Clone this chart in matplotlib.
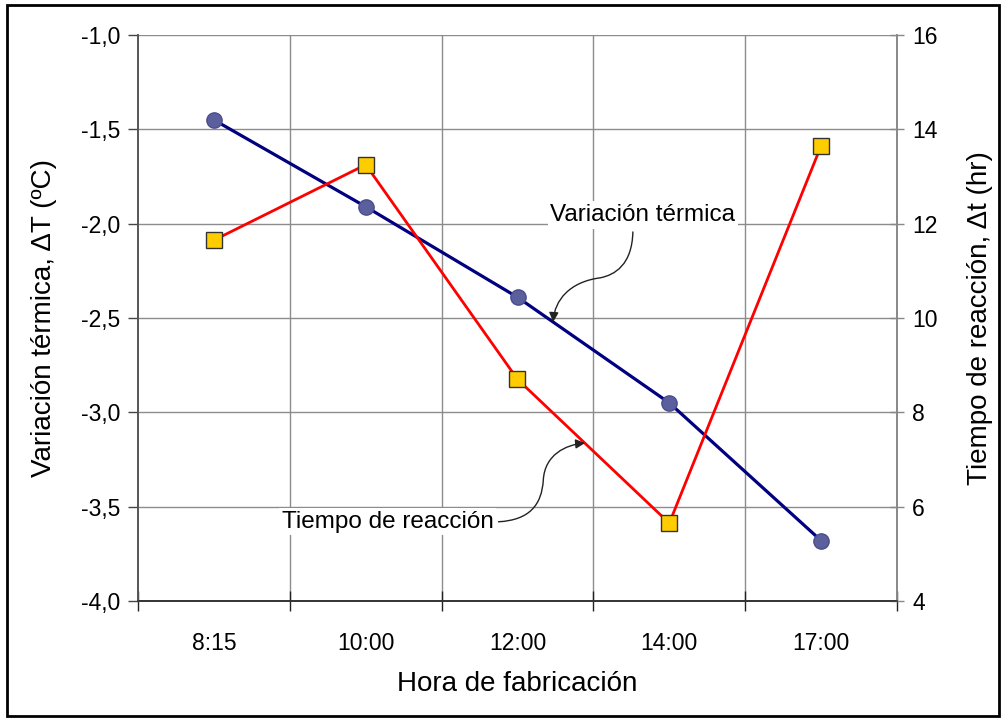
import matplotlib
matplotlib.use("Agg")
import matplotlib.pyplot as plt
from matplotlib.patches import FancyArrowPatch, Rectangle
from matplotlib.path import Path

plt.rcParams['font.family'] = ['Liberation Sans', 'DejaVu Sans']

horas = ['8:15', '10:00', '12:00', '14:00', '17:00']
variacion_termica = [-1.45, -1.91, -2.39, -2.95, -3.68]   # ΔT (ºC)
tiempo_reaccion = [11.65, 13.25, 8.70, 5.65, 13.65]       # Δt (hr)

left_ticks = [-4.0, -3.5, -3.0, -2.5, -2.0, -1.5, -1.0]
right_ticks = [4, 6, 8, 10, 12, 14, 16]

fig = plt.figure(figsize=(10.02, 7.18), dpi=100)
ax = fig.add_axes([138 / 1002, 1 - 601 / 718, 759 / 1002, 566 / 718])
ax2 = ax.twinx()

x = list(range(len(horas)))
grid_c = '#8c8c8c'

# category grid lines between the hours
for b in [i + 0.5 for i in range(len(horas) - 1)]:
    ax.axvline(b, color=grid_c, lw=1.0, zorder=0)
for t in left_ticks:
    ax.axhline(t, color=grid_c, lw=1.0, zorder=0)

ax.plot(x, variacion_termica, color='#000080', lw=2.3, marker='o', ms=11,
        mfc='#5c5f9e', mec='#4a4d8c', mew=1, zorder=3)
ax2.plot(x, tiempo_reaccion, color='#ff0000', lw=2.0, marker='s', ms=11.5,
         mfc='#ffcc00', mec='#333333', mew=1, zorder=3)

ax.set_xlim(-0.5, len(horas) - 0.5)
ax.set_ylim(-4.0, -1.0)
ax2.set_ylim(4, 16)
ax.set_xticks(x)
ax.set_xticklabels(horas)
ax.set_xticks([i - 0.5 for i in range(len(horas) + 1)], minor=True)
ax.set_yticks(left_ticks)
ax.set_yticklabels([f'{v:.1f}'.replace('.', ',') for v in left_ticks])
ax2.set_yticks(right_ticks)

ax.tick_params(axis='x', which='major', length=0, labelsize=16.5, pad=22)
ax.tick_params(axis='x', which='minor', direction='inout', length=14,
               width=1, color='#222222')
ax.tick_params(axis='y', direction='out', length=7, width=1,
               color='#444444', labelsize=16.5, pad=6)
ax2.tick_params(axis='y', direction='inout', length=10, width=1,
                color='#888888', labelsize=16.5, pad=6)

for a in (ax, ax2):
    a.spines['top'].set_visible(False)
    a.spines['left'].set_color('#555555')
    a.spines['bottom'].set_color('#333333')
    a.spines['right'].set_color('#888888')
    a.spines['left'].set_linewidth(1.2)
    a.spines['bottom'].set_linewidth(1.2)
    a.spines['right'].set_linewidth(1.2)

ax.set_xlabel('Hora de fabricación', fontsize=20, labelpad=12)
ax.set_ylabel('Variación térmica, ΔT (ºC)', fontsize=20, labelpad=17)
ax2.set_ylabel('Tiempo de reacción, Δt (hr)', fontsize=20, labelpad=21)

# callout labels with curved leader arrows (axes-fraction coordinates)
txt_box = dict(facecolor='white', edgecolor='none', pad=2)
ax2.text(0.665, 0.682, 'Variación térmica', transform=ax.transAxes,
         fontsize=17.5, ha='center', va='center', bbox=txt_box, zorder=5)
ax2.text(0.329, 0.140, 'Tiempo de reacción', transform=ax.transAxes,
         fontsize=17.5, ha='center', va='center', bbox=txt_box, zorder=5)

codes = [Path.MOVETO, Path.CURVE4, Path.CURVE4, Path.CURVE4,
         Path.CURVE4, Path.CURVE4, Path.CURVE4]
blue_leader = [(0.652, 0.652), (0.651, 0.594), (0.628, 0.576), (0.609, 0.571),
               (0.569, 0.564), (0.549, 0.532), (0.547, 0.493)]
red_leader = [(0.475, 0.140), (0.516, 0.143), (0.532, 0.170), (0.534, 0.214),
              (0.536, 0.258), (0.563, 0.276), (0.589, 0.279)]
for pts in (blue_leader, red_leader):
    arr = FancyArrowPatch(path=Path(pts, codes), arrowstyle='-|>',
                          mutation_scale=14, color='#222222', lw=1.0,
                          transform=ax.transAxes, zorder=6)
    ax2.add_patch(arr)
    arr.set_transform(ax.transAxes)

# outer frame around the whole figure
fig.patches.append(Rectangle((7 / 1002, 2 / 718), 992 / 1002, 711 / 718,
                             transform=fig.transFigure, fill=False,
                             edgecolor='black', lw=2))

fig.savefig('out.png', dpi=100)
